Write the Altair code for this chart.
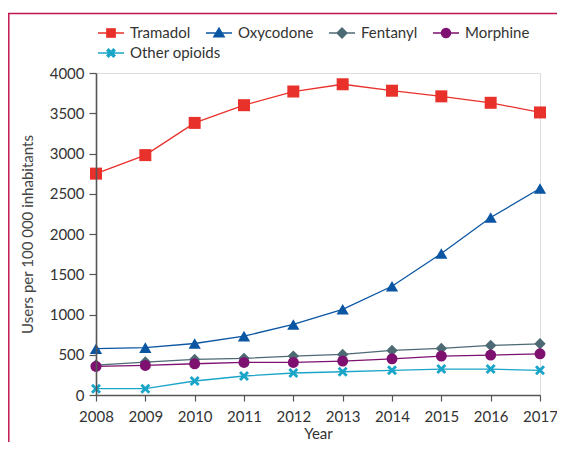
import altair as alt
import pandas as pd

years = [2008, 2009, 2010, 2011, 2012, 2013, 2014, 2015, 2016, 2017]
drugs = ["Tramadol", "Oxycodone", "Fentanyl", "Morphine", "Other opioids"]
tramadol = [2750, 2980, 3380, 3600, 3770, 3860, 3780, 3710, 3630, 3510]
oxycodone = [575, 588, 640, 731, 876, 1065, 1351, 1757, 2205, 2565]
fentanyl = [372, 409, 442, 455, 483, 504, 554, 579, 616, 636]
morphine = [355, 368, 388, 405, 405, 421, 450, 483, 496, 512]
other_opioids = [79, 79, 174, 236, 273, 289, 306, 322, 322, 306]
y_ticks = [0, 500, 1000, 1500, 2000, 2500, 3000, 3500, 4000]

colors = ["#e8312a", "#0b56a3", "#4d6a74", "#7e1170", "#1aa5c8"]

X_PATH = "M-1,-0.6L-0.6,-1L0,-0.4L0.6,-1L1,-0.6L0.4,0L1,0.6L0.6,1L0,0.4L-0.6,1L-1,0.6L-0.4,0Z"
marker_shapes = ["square", "triangle-up", "diamond", "circle", X_PATH]
marker_sizes = [144, 150, 130, 121, 100]

LINE = "M-1.625,0H1.625"
legend_paths = [
    LINE + "M-0.52,-0.52H0.52V0.52H-0.52Z",
    LINE + "M0,-0.6L0.65,0.47H-0.65Z",
    LINE + "M0,-0.62L0.62,0L0,0.62L-0.62,0Z",
    LINE + "M-0.57,0A0.57,0.57,0,1,0,0.57,0A0.57,0.57,0,1,0,-0.57,0Z",
    LINE + "M-0.5,-0.3L-0.3,-0.5L0,-0.2L0.3,-0.5L0.5,-0.3L0.2,0L0.5,0.3L0.3,0.5L0,0.2L-0.3,0.5L-0.5,0.3L-0.2,0Z",
]

series = [tramadol, oxycodone, fentanyl, morphine, other_opioids]
rows = []
for d, vals in zip(drugs, series):
    for yr, v in zip(years, vals):
        rows.append({"year": yr, "drug": d, "value": v})
df = pd.DataFrame(rows)

FONT = "Lato"
AX = "#555555"
TXT = "#333333"

x_enc = alt.X(
    "year:Q",
    scale=alt.Scale(domain=[2008, 2017], nice=False, zero=False),
    axis=alt.Axis(
        values=years, format="d", title="Year", grid=False,
        tickSize=6, labelPadding=8, titlePadding=2,
        domainColor=AX, tickColor=AX, domainWidth=1.6, tickWidth=1.2,
        labelFont=FONT, titleFont=FONT, labelFontSize=15, titleFontSize=15,
        titleFontWeight=400, labelColor=TXT, titleColor=TXT,
        labelFlush=False, zindex=1,
    ),
)
y_enc = alt.Y(
    "value:Q",
    scale=alt.Scale(domain=[0, 4000], nice=False),
    axis=alt.Axis(
        values=y_ticks, format="d", title="Users per 100 000 inhabitants", grid=False,
        tickSize=7, labelPadding=5, titlePadding=14,
        domainColor=AX, tickColor=AX, domainWidth=1.6, tickWidth=1.2,
        labelFont=FONT, titleFont=FONT, labelFontSize=15, titleFontSize=15,
        titleFontWeight=400, labelColor=TXT, titleColor="#444444", zindex=1,
    ),
)

base = alt.Chart(df)

line_layers = []
marker_layers = []
for d, c, shp, sz in zip(drugs, colors, marker_shapes, marker_sizes):
    sub = base.transform_filter(alt.datum.drug == d)
    line_layers.append(
        sub.mark_line(strokeWidth=1.3, color=c).encode(x=x_enc, y=y_enc)
    )
    marker_layers.append(
        sub.mark_point(filled=True, shape=shp, size=sz, opacity=1, color=c)
        .encode(x=x_enc, y=y_enc)
    )


def legend_layer(names, ly):
    idx = [drugs.index(n) for n in names]
    cols = [colors[i] for i in idx]
    return (
        base.transform_filter(alt.FieldOneOfPredicate(field="drug", oneOf=names))
        .mark_point(filled=True, opacity=0)
        .encode(
            x=x_enc, y=y_enc,
            color=alt.Color(
                "drug:N",
                scale=alt.Scale(domain=names, range=cols),
                legend=alt.Legend(
                    title=None, orient="none", legendX=6, legendY=ly,
                    direction="horizontal",
                    symbolSize=256, symbolStrokeWidth=1.4, symbolOpacity=1,
                    labelOffset=10, columnPadding=12, padding=0,
                    labelFont=FONT, labelFontSize=15, labelColor=TXT,
                ),
            ),
            stroke=alt.Stroke("drug:N", scale=alt.Scale(domain=names, range=cols)),
            shape=alt.Shape(
                "drug:N",
                scale=alt.Scale(domain=names, range=[legend_paths[i] for i in idx]),
            ),
        )
    )


legend_a = legend_layer(drugs[:4], -49)
legend_b = legend_layer(drugs[4:], -29)

frame_df = pd.DataFrame({"k": [0]})
frame_top = alt.Chart(frame_df).mark_rule(color="#c0164e", strokeWidth=1.5).encode(
    x=alt.value(-88), x2=alt.value(461), y=alt.value(-59.5)
)
frame_left = alt.Chart(frame_df).mark_rule(color="#c0164e", strokeWidth=1.5).encode(
    x=alt.value(-87.2), y=alt.value(-59.5), y2=alt.value(369)
)

chart = alt.layer(
    frame_top, frame_left, *line_layers, *marker_layers, legend_a, legend_b
).resolve_scale(
    color="independent", shape="independent", stroke="independent"
).properties(
    width=444, height=322,
    padding={"left": 88, "top": 65, "right": 17, "bottom": 47},
    autosize=alt.AutoSizeParams(type="none"),
).configure_view(stroke=None).configure(font=FONT).configure_legend(
    symbolFillColor="#000000"
)

chart.save("out.html", embed_options={"renderer": "svg", "actions": False})
